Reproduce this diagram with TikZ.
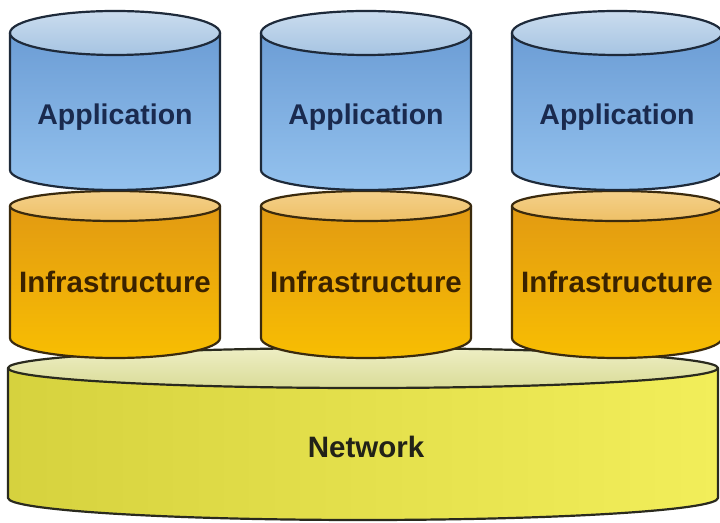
\documentclass[tikz,border=0pt]{standalone}
\usepackage{fontspec}
\setmainfont{Liberation Sans}
\definecolor{appTopA}{HTML}{CADCEE}
\definecolor{appTopB}{HTML}{A6C4E2}
\definecolor{appBodyA}{HTML}{6C9DD5}
\definecolor{appBodyB}{HTML}{94C2EE}
\definecolor{appLine}{HTML}{1E2A3A}
\definecolor{appText}{HTML}{1A2A4E}
\definecolor{infTopA}{HTML}{F4D08A}
\definecolor{infTopB}{HTML}{EEC066}
\definecolor{infBodyA}{HTML}{E29A12}
\definecolor{infBodyB}{HTML}{F8BE02}
\definecolor{infLine}{HTML}{3A2A0E}
\definecolor{infText}{HTML}{3A2200}
\definecolor{netTopA}{HTML}{EEEEC4}
\definecolor{netTopB}{HTML}{DADC98}
\definecolor{netBodyA}{HTML}{D6D23E}
\definecolor{netBodyB}{HTML}{F2EE5A}
\definecolor{netLine}{HTML}{2A2A1E}
\definecolor{netText}{HTML}{222218}
\newcommand\mycyl[8]{%
  \path[#7] (#1-#4,#2) -- (#1-#4,#3) arc[start angle=180,end angle=360,x radius=#4,y radius=#6] -- (#1+#4,#2) -- cycle;
  \path[#8] (#1,#2) ellipse[x radius=#4,y radius=#5];
}
\begin{document}
\begin{tikzpicture}[x=1pt,y=1pt,line join=round,
  appbody/.style={draw=appLine,line width=2.2pt,top color=appBodyA,bottom color=appBodyB},
  apptop/.style={draw=appLine,line width=2.2pt,top color=appTopA,bottom color=appTopB},
  infbody/.style={draw=infLine,line width=2.2pt,top color=infBodyA,bottom color=infBodyB},
  inftop/.style={draw=infLine,line width=2.2pt,top color=infTopA,bottom color=infTopB},
  netbody/.style={draw=netLine,line width=2.2pt,left color=netBodyA,right color=netBodyB},
  nettop/.style={draw=netLine,line width=2.2pt,top color=netTopA,bottom color=netTopB},
  lbl/.style={inner sep=0pt},
  applbl/.style={lbl,font=\fontsize{28.5}{30}\selectfont\bfseries,text=appText},
  inflbl/.style={lbl,font=\fontsize{29.5}{31}\selectfont\bfseries,text=infText},
  netlbl/.style={lbl,font=\fontsize{29.5}{31}\selectfont\bfseries,text=netText}]
\useasboundingbox (0,0) rectangle (720,522);
\fill[white] (0,0) rectangle (720,522);
% network
\mycyl{363}{154}{24}{355}{20}{22}{netbody}{nettop}
% infrastructure
\foreach \cx in {115,366,617}{
  \mycyl{\cx}{316}{184}{105}{15}{20}{infbody}{inftop}
}
% application
\foreach \cx in {115,366,617}{
  \mycyl{\cx}{489}{352}{105}{22}{20}{appbody}{apptop}
}
\node[applbl] (app1) at (115,405) {Application};
\node[applbl] (app2) at (366,405) {Application};
\node[applbl] (app3) at (617,405) {Application};
\node[inflbl] (inf1) at (115,240) {Infrastructure};
\node[inflbl] (inf2) at (366,240) {Infrastructure};
\node[inflbl] (inf3) at (617,240) {Infrastructure};
\node[netlbl] (net) at (366,75) {Network};
\end{tikzpicture}
\end{document}
